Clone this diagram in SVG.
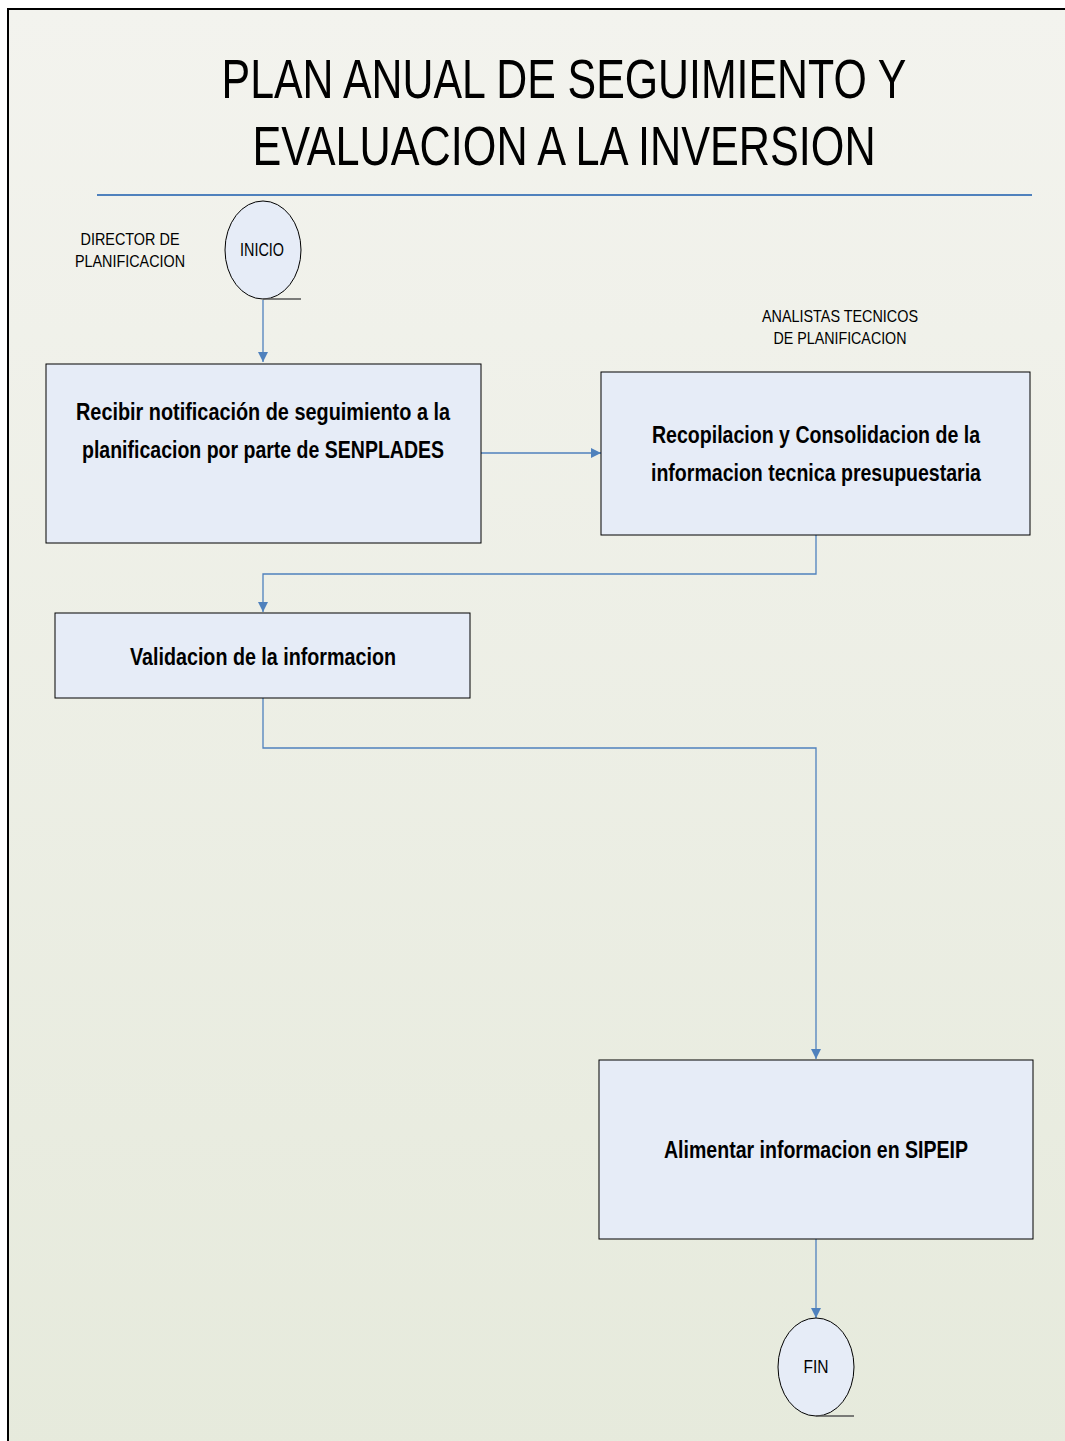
<svg xmlns="http://www.w3.org/2000/svg" width="1065" height="1441" viewBox="0 0 1065 1441">
  <style>
    .lbl { font-family: "Liberation Sans", Arial, sans-serif; fill: #000; }
    .title { font-size: 56px; }
    .role { font-size: 17px; }
    .step { font-size: 23px; font-weight: bold; }
    .term { font-size: 18px; }
    .box { fill: #e6ecf7; stroke: #000; stroke-width: 1; }
    .link { fill: none; stroke: #4f81bd; stroke-width: 1.3; }
    .tail { stroke: #555; stroke-width: 1.3; }
  </style>
  <defs>
    <linearGradient id="page" x1="0" y1="0" x2="0" y2="1">
      <stop offset="0" stop-color="#f3f3ee"/>
      <stop offset="1" stop-color="#e6eadc"/>
    </linearGradient>
    <marker id="arrow" viewBox="0 0 10 10" refX="10" refY="5" markerWidth="12" markerHeight="10" markerUnits="userSpaceOnUse" orient="auto">
      <path d="M0,0 L10,5 L0,10 Z" fill="#4f81bd"/>
    </marker>
  </defs>

  <!-- page -->
  <rect x="0" y="0" width="1065" height="1441" fill="#fff"/>
  <rect x="8" y="9" width="1070" height="1445" fill="url(#page)" stroke="#000" stroke-width="2"/>

  <!-- heading, set in a condensed cut -->
  <g id="title">
    <text class="lbl title" transform="matrix(0.78 0 0 1 564 98)" x="0" y="0" text-anchor="middle" textLength="878" lengthAdjust="spacingAndGlyphs">PLAN ANUAL DE SEGUIMIENTO Y</text>
    <text class="lbl title" transform="matrix(0.78 0 0 1 564 165)" x="0" y="0" text-anchor="middle" textLength="799" lengthAdjust="spacingAndGlyphs">EVALUACION A LA INVERSION</text>
    <line x1="97" y1="195" x2="1032" y2="195" stroke="#4f81bd" stroke-width="2"/>
  </g>

  <!-- roles -->
  <g id="role-director">
    <text class="lbl role" x="130" y="245" text-anchor="middle" textLength="99" lengthAdjust="spacingAndGlyphs">DIRECTOR DE</text>
    <text class="lbl role" x="130" y="267" text-anchor="middle" textLength="110" lengthAdjust="spacingAndGlyphs">PLANIFICACION</text>
  </g>
  <g id="role-analistas">
    <text class="lbl role" x="840" y="322" text-anchor="middle" textLength="156" lengthAdjust="spacingAndGlyphs">ANALISTAS TECNICOS</text>
    <text class="lbl role" x="840" y="344" text-anchor="middle" textLength="133" lengthAdjust="spacingAndGlyphs">DE PLANIFICACION</text>
  </g>

  <!-- connectors -->
  <g id="connectors">
    <path class="link" d="M263,300 V362" marker-end="url(#arrow)"/>
    <path class="link" d="M481,453 H601" marker-end="url(#arrow)"/>
    <path class="link" d="M816,535 V574 H263 V612" marker-end="url(#arrow)"/>
    <path class="link" d="M263,698 V748 H816 V1059" marker-end="url(#arrow)"/>
    <path class="link" d="M816,1239 V1318" marker-end="url(#arrow)"/>
  </g>

  <!-- nodes -->
  <g id="inicio">
    <ellipse cx="263" cy="250" rx="38" ry="49" fill="#e6ecf7" stroke="#000" stroke-width="1"/>
    <line class="tail" x1="263" y1="299" x2="301" y2="299"/>
    <text class="lbl term" x="262" y="256" text-anchor="middle" textLength="44" lengthAdjust="spacingAndGlyphs">INICIO</text>
  </g>

  <g id="recibir">
    <rect class="box" x="46" y="364" width="435" height="179"/>
    <text class="lbl step" x="263" y="420" text-anchor="middle" textLength="374" lengthAdjust="spacingAndGlyphs">Recibir notificación de  seguimiento a la</text>
    <text class="lbl step" x="263" y="458" text-anchor="middle" textLength="362" lengthAdjust="spacingAndGlyphs">planificacion por parte de SENPLADES</text>
  </g>

  <g id="recopilacion">
    <rect class="box" x="601" y="372" width="429" height="163"/>
    <text class="lbl step" x="816" y="443" text-anchor="middle" textLength="328" lengthAdjust="spacingAndGlyphs">Recopilacion y Consolidacion de la</text>
    <text class="lbl step" x="816" y="481" text-anchor="middle" textLength="330" lengthAdjust="spacingAndGlyphs">informacion tecnica presupuestaria</text>
  </g>

  <g id="validacion">
    <rect class="box" x="55" y="613" width="415" height="85"/>
    <text class="lbl step" x="263" y="665" text-anchor="middle" textLength="266" lengthAdjust="spacingAndGlyphs">Validacion de la informacion</text>
  </g>

  <g id="alimentar">
    <rect class="box" x="599" y="1060" width="434" height="179"/>
    <text class="lbl step" x="816" y="1158" text-anchor="middle" textLength="304" lengthAdjust="spacingAndGlyphs">Alimentar informacion en SIPEIP</text>
  </g>

  <g id="fin">
    <ellipse cx="816" cy="1367" rx="38" ry="49" fill="#e6ecf7" stroke="#000" stroke-width="1"/>
    <line class="tail" x1="816" y1="1416" x2="854" y2="1416"/>
    <text class="lbl term" x="816" y="1373" text-anchor="middle" textLength="25" lengthAdjust="spacingAndGlyphs">FIN</text>
  </g>
</svg>
